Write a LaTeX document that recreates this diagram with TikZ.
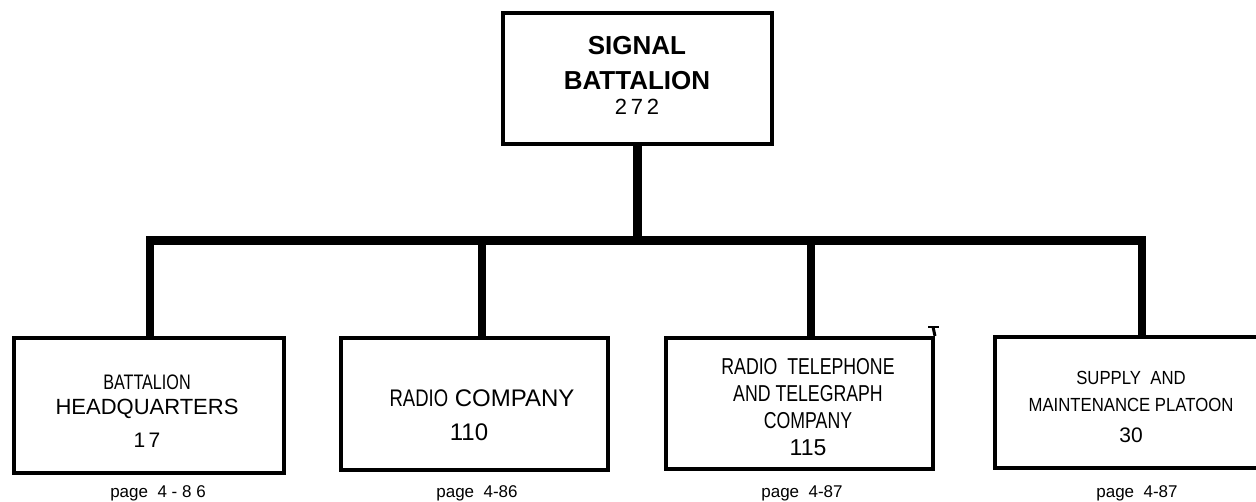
\documentclass[tikz,border=0pt]{standalone}
\usepackage{fontspec}
\setmainfont{Liberation Sans}
\newfontfamily\narrowA{Liberation Sans}[FakeStretch=0.77]
\newfontfamily\narrowB{Liberation Sans}[FakeStretch=0.88]
\begin{document}
\begin{tikzpicture}[x=1pt,y=-1pt,
  box/.style={draw, line width=4pt, rectangle, inner sep=0pt},
  link/.style={line width=8.5pt, line cap=butt, line join=miter},
  txt/.style={inner sep=0pt, align=center, anchor=center},
  pagelbl/.style={inner sep=0pt, anchor=base, font=\fontsize{17}{20}\selectfont}]
\clip (0,0) rectangle (1256,502);
\useasboundingbox (0,0) rectangle (1256,502);
% boxes
\node[box, minimum width=269pt, minimum height=131pt] (top) at (637.5,78.5) {};
\node[box, minimum width=270pt, minimum height=135pt] (b1) at (149,405.5) {};
\node[box, minimum width=267pt, minimum height=132pt] (b2) at (474.5,404) {};
\node[box, minimum width=267pt, minimum height=131pt] (b3) at (799.5,403.5) {};
\node[box, minimum width=275pt, minimum height=131pt] (b4) at (1132.5,402.5) {};
% connectors
\coordinate (barL) at (150,240.5);
\coordinate (barR) at (1142,240.5);
\coordinate (j2) at (482,240.5);
\coordinate (j3) at (811,240.5);
\draw[link] (top.south) -- (top.south |- barL);
\draw[link] (barL |- b1.north) -- (barL) -- (barR) -- (barR |- b4.north);
\draw[link] (j2) -- (j2 |- b2.north);
\draw[link] (j3) -- (j3 |- b3.north);
% small tick above box 3
\coordinate (tk) at (933,327);
\draw[line width=3pt] (tk) -- (b3.north east);
\draw[line width=2.5pt] ([xshift=-5pt]tk) -- ([xshift=6pt]tk);
% texts
\node[txt, font=\fontsize{26}{35}\selectfont] (ttop) at (637,75)
  {\bfseries SIGNAL\\\bfseries BATTALION\\[-10pt]{\fontsize{22}{26}\selectfont 2\,7\,2}};
\node[txt, font=\fontsize{21}{25}\selectfont] (t1) at (147,411)
  {{\narrowA BATTALION}\\{\fontsize{22}{25}\selectfont HEADQUARTERS}\\[8pt]1\,7};
\node[txt, font=\fontsize{24}{34}\selectfont] (t2) at (482,415)
  {{\narrowA RADIO} COMPANY\\110\hspace*{26pt}};
\node[txt, font=\fontsize{23}{27}\selectfont] (t3) at (808,407)
  {{\narrowA RADIO\ \ TELEPHONE}\\{\narrowA AND TELEGRAPH}\\{\narrowA COMPANY}\\115};
\node[txt, font=\fontsize{19}{27}\selectfont] (t4) at (1131,407)
  {{\narrowB SUPPLY\ \ AND}\\{\narrowB MAINTENANCE PLATOON}\\[4pt]{\fontsize{21}{25}\selectfont 30}};
% page labels
\node[pagelbl] (p1) at (158,497) {page\ \ 4 - 8 6};
\node[pagelbl] (p2) at (477,497) {page\ \ 4-86};
\node[pagelbl] (p3) at (802,497) {page\ \ 4-87};
\node[pagelbl] (p4) at (1137,497) {page\ \ 4-87};
\end{tikzpicture}
\end{document}
